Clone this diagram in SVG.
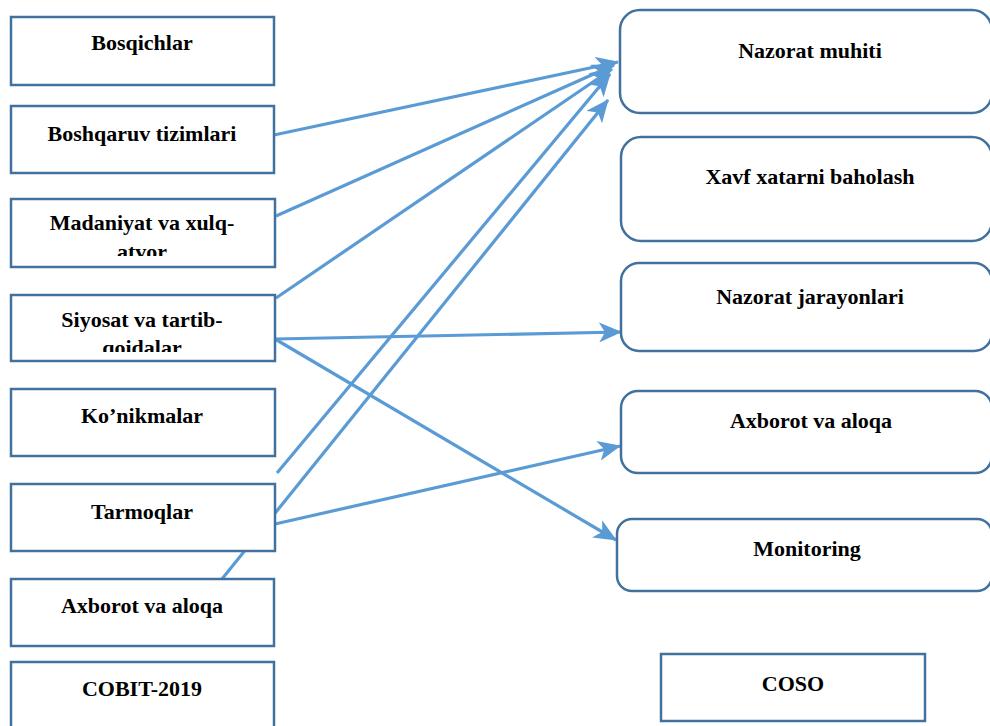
<svg xmlns="http://www.w3.org/2000/svg" width="990" height="726" viewBox="0 0 990 726">
<style>
.box{fill:#fff;stroke:#41719C;stroke-width:2.5}
.t{font-family:'Liberation Serif','DejaVu Serif',serif;font-weight:700;font-size:22px;fill:#000;text-anchor:middle}
.c{stroke:#5B9BD5;stroke-width:3.2;fill:none;marker-end:url(#ah)}
</style>
<defs>
<marker id="ah" markerUnits="userSpaceOnUse" markerWidth="24" markerHeight="20" refX="22" refY="10" orient="auto">
<path d="M0,0 L23,10 L0,20 L6,10 Z" fill="#5B9BD5"/>
</marker>
<clipPath id="cl3"><rect x="11" y="199" width="263" height="57"/></clipPath>
<clipPath id="cl4"><rect x="11" y="295" width="263" height="57"/></clipPath>
</defs>
<rect width="990" height="726" fill="#fff"/>
<g id="connectors">
<line class="c" x1="274" y1="135" x2="618" y2="62"/>
<line class="c" x1="276" y1="216" x2="614" y2="65"/>
<line class="c" x1="276" y1="298" x2="612" y2="69"/>
<line class="c" x1="277" y1="473" x2="610" y2="74"/>
<line class="c" x1="222" y1="579" x2="608" y2="100"/>
<line class="c" x1="275" y1="339" x2="621" y2="332"/>
<line class="c" x1="275" y1="339" x2="616" y2="540"/>
<line class="c" x1="275" y1="524" x2="620" y2="446"/>
</g>
<g id="n1"><rect class="box" x="11" y="17" width="263" height="68"/><text class="t" x="142" y="50">Bosqichlar</text></g>
<g id="n2"><rect class="box" x="11" y="106" width="263" height="67"/><text class="t" x="142" y="141">Boshqaruv tizimlari</text></g>
<g id="n3"><rect class="box" x="11" y="199" width="264" height="68"/><g clip-path="url(#cl3)"><text class="t" x="142" y="230">Madaniyat va xulq-</text><text class="t" x="142" y="259">atvor</text></g></g>
<g id="n4"><rect class="box" x="11" y="295" width="264" height="66"/><g clip-path="url(#cl4)"><text class="t" x="142" y="327">Siyosat va tartib-</text><text class="t" x="142" y="355">qoidalar</text></g></g>
<g id="n5"><rect class="box" x="11" y="389" width="264" height="67"/><text class="t" x="142" y="423">Ko’nikmalar</text></g>
<g id="n6"><rect class="box" x="11" y="484" width="264" height="67"/><text class="t" x="142" y="519">Tarmoqlar</text></g>
<g id="n7"><rect class="box" x="11" y="579" width="263" height="67"/><text class="t" x="142" y="613">Axborot va aloqa</text></g>
<g id="n8"><rect class="box" x="11" y="662" width="263" height="80"/><text class="t" x="142" y="696">COBIT-2019</text></g>
<g id="r1"><rect class="box" x="620" y="10" width="372" height="103" rx="20"/><text class="t" x="810" y="58">Nazorat muhiti</text></g>
<g id="r2"><rect class="box" x="621" y="137" width="371" height="104" rx="20"/><text class="t" x="810" y="184">Xavf xatarni baholash</text></g>
<g id="r3"><rect class="box" x="621" y="263" width="371" height="88" rx="18"/><text class="t" x="810" y="304">Nazorat jarayonlari</text></g>
<g id="r4"><rect class="box" x="621" y="391" width="371" height="82" rx="17"/><text class="t" x="811" y="428">Axborot va aloqa</text></g>
<g id="r5"><rect class="box" x="617" y="519" width="375" height="72" rx="15"/><text class="t" x="807" y="556">Monitoring</text></g>
<g id="r6"><rect class="box" x="661" y="654" width="264" height="67"/><text class="t" x="793" y="691">COSO</text></g>
</svg>
